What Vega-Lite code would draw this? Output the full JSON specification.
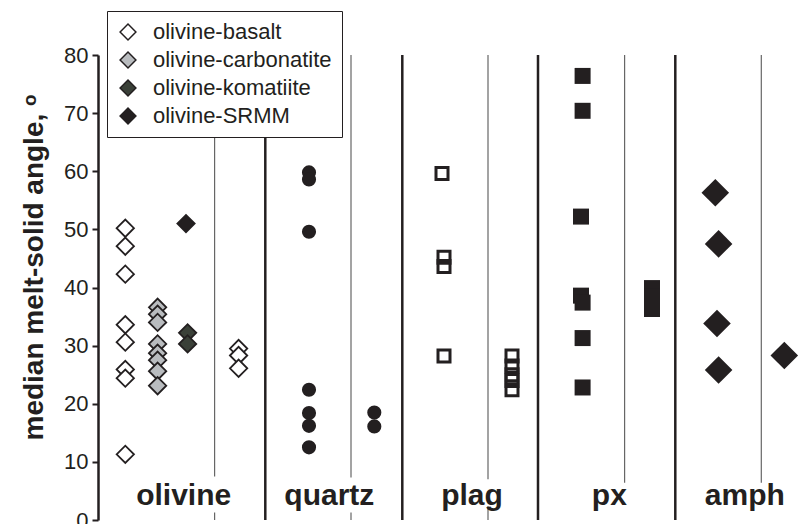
{
  "$schema": "https://vega.github.io/schema/vega-lite/v6.json",
  "width": 704,
  "height": 465,
  "autosize": {"type": "none"},
  "padding": {"left": 98, "top": 55, "right": 0, "bottom": 4},
  "background": "white",
  "config": {"view": {"stroke": null}, "font": "Liberation Sans"},
  "datasets": {
    "sep": [
      {"x": 16.73, "v": 0, "v2": 80},
      {"x": 30.43, "v": 0, "v2": 80},
      {"x": 44.0, "v": 0, "v2": 80},
      {"x": 57.73, "v": 0, "v2": 80}
    ],
    "thin": [
      {"x": 11.66, "v": 7.5, "v2": 80},
      {"x": 11.66, "v": 0, "v2": 1.3},
      {"x": 25.3, "v": 7.3, "v2": 80},
      {"x": 25.3, "v": 0, "v2": 1.3},
      {"x": 39.0, "v": 7.0, "v2": 80},
      {"x": 39.0, "v": 0, "v2": 2.4},
      {"x": 52.66, "v": 6.4, "v2": 80},
      {"x": 66.33, "v": 6.4, "v2": 80}
    ],
    "oliv": [
      {"x": 2.73, "v": 50.2, "s": "olivine-basalt"},
      {"x": 2.73, "v": 47.1, "s": "olivine-basalt"},
      {"x": 2.73, "v": 42.3, "s": "olivine-basalt"},
      {"x": 2.73, "v": 33.6, "s": "olivine-basalt"},
      {"x": 2.73, "v": 30.6, "s": "olivine-basalt"},
      {"x": 2.73, "v": 25.9, "s": "olivine-basalt"},
      {"x": 2.73, "v": 24.4, "s": "olivine-basalt"},
      {"x": 2.73, "v": 11.3, "s": "olivine-basalt"},
      {"x": 14.06, "v": 29.5, "s": "olivine-basalt"},
      {"x": 14.06, "v": 28.3, "s": "olivine-basalt"},
      {"x": 14.06, "v": 26.1, "s": "olivine-basalt"},
      {"x": 5.96, "v": 36.6, "s": "olivine-carbonatite"},
      {"x": 5.96, "v": 35.4, "s": "olivine-carbonatite"},
      {"x": 5.96, "v": 34.0, "s": "olivine-carbonatite"},
      {"x": 5.96, "v": 30.3, "s": "olivine-carbonatite"},
      {"x": 5.96, "v": 28.7, "s": "olivine-carbonatite"},
      {"x": 5.96, "v": 27.5, "s": "olivine-carbonatite"},
      {"x": 5.96, "v": 25.6, "s": "olivine-carbonatite"},
      {"x": 5.96, "v": 23.1, "s": "olivine-carbonatite"},
      {"x": 8.96, "v": 32.2, "s": "olivine-komatiite"},
      {"x": 8.96, "v": 30.3, "s": "olivine-komatiite"},
      {"x": 8.8, "v": 51.0, "s": "olivine-SRMM"}
    ],
    "quartz": [
      {"x": 21.1, "v": 59.8},
      {"x": 21.1, "v": 58.6},
      {"x": 21.1, "v": 49.6},
      {"x": 21.1, "v": 22.4},
      {"x": 21.1, "v": 18.4},
      {"x": 21.1, "v": 16.2},
      {"x": 21.1, "v": 12.5},
      {"x": 27.63, "v": 18.5},
      {"x": 27.63, "v": 16.1}
    ],
    "plag": [
      {"x": 34.4, "v": 59.6},
      {"x": 34.6, "v": 45.2},
      {"x": 34.6, "v": 43.6},
      {"x": 34.6, "v": 28.2},
      {"x": 41.4, "v": 28.2},
      {"x": 41.4, "v": 26.5},
      {"x": 41.4, "v": 25.0},
      {"x": 41.4, "v": 24.0},
      {"x": 41.4, "v": 22.4}
    ],
    "px": [
      {"x": 48.46, "v": 76.4},
      {"x": 48.46, "v": 70.4},
      {"x": 48.3, "v": 52.2},
      {"x": 48.3, "v": 38.6},
      {"x": 48.46, "v": 37.4},
      {"x": 48.46, "v": 31.3},
      {"x": 48.46, "v": 22.8},
      {"x": 55.4, "v": 39.9},
      {"x": 55.4, "v": 38.5},
      {"x": 55.4, "v": 36.3}
    ],
    "amph": [
      {"x": 61.73, "v": 56.3},
      {"x": 62.06, "v": 47.5},
      {"x": 61.9, "v": 33.8},
      {"x": 62.06, "v": 25.8},
      {"x": 68.63, "v": 28.3}
    ],
    "labels": [
      {"x": 8.57, "v": 2.66, "t": "olivine"},
      {"x": 23.13, "v": 2.66, "t": "quartz"},
      {"x": 37.4, "v": 2.66, "t": "plag"},
      {"x": 51.13, "v": 2.66, "t": "px"},
      {"x": 64.68, "v": 2.66, "t": "amph"}
    ]
  },
  "layer": [
    {
      "data": {"name": "thin"},
      "mark": {"type": "rule", "color": "#666666", "strokeWidth": 1.2},
      "encoding": {
        "x": {"field": "x", "type": "quantitative", "scale": {"domain": [0, 70.4], "nice": false, "zero": false}, "axis": null},
        "y": {
          "field": "v", "type": "quantitative",
          "scale": {"domain": [0, 80], "nice": false},
          "axis": {
            "title": "median melt-solid angle, ᵒ",
            "values": [0, 10, 20, 30, 40, 50, 60, 70, 80],
            "grid": false,
            "domainColor": "#231f20", "domainWidth": 2.5,
            "tickColor": "#231f20", "tickWidth": 2, "tickSize": 6,
            "labelFont": "Liberation Sans", "labelFontSize": 22, "labelColor": "#231f20", "labelPadding": 4,
            "titleFont": "Liberation Sans", "titleFontSize": 28, "titleFontWeight": "bold", "titleColor": "#231f20",
            "titleX": -56, "titleY": 212, "titleAngle": -90, "titleAlign": "center", "titleBaseline": "alphabetic"
          }
        },
        "y2": {"field": "v2"}
      }
    },
    {
      "data": {"name": "sep"},
      "mark": {"type": "rule", "color": "#231f20", "strokeWidth": 2.5},
      "encoding": {
        "x": {"field": "x", "type": "quantitative", "axis": null},
        "y": {"field": "v", "type": "quantitative"},
        "y2": {"field": "v2"}
      }
    },
    {
      "mark": {"type": "rule", "color": "#231f20", "strokeWidth": 2.5},
      "encoding": {"y": {"datum": 80, "type": "quantitative"}}
    },
    {
      "mark": {"type": "rule", "color": "#231f20", "strokeWidth": 2.5},
      "encoding": {"y": {"datum": 0, "type": "quantitative"}}
    },
    {
      "data": {"name": "labels"},
      "mark": {"type": "text", "font": "Liberation Sans", "fontSize": 30, "fontWeight": "bold", "color": "#231f20", "align": "center", "baseline": "alphabetic"},
      "encoding": {
        "x": {"field": "x", "type": "quantitative", "axis": null},
        "y": {"field": "v", "type": "quantitative"},
        "text": {"field": "t"}
      }
    },
    {
      "data": {"name": "quartz"},
      "mark": {"type": "point", "shape": "circle", "filled": true, "size": 200, "color": "#231f20", "opacity": 1},
      "encoding": {
        "x": {"field": "x", "type": "quantitative", "axis": null},
        "y": {"field": "v", "type": "quantitative"}
      }
    },
    {
      "data": {"name": "plag"},
      "mark": {"type": "point", "shape": "square", "filled": false, "size": 144, "stroke": "#231f20", "strokeWidth": 3, "opacity": 1},
      "encoding": {
        "x": {"field": "x", "type": "quantitative", "axis": null},
        "y": {"field": "v", "type": "quantitative"}
      }
    },
    {
      "data": {"name": "px"},
      "mark": {"type": "point", "shape": "square", "filled": true, "size": 256, "color": "#231f20", "opacity": 1},
      "encoding": {
        "x": {"field": "x", "type": "quantitative", "axis": null},
        "y": {"field": "v", "type": "quantitative"}
      }
    },
    {
      "data": {"name": "amph"},
      "mark": {"type": "point", "shape": "diamond", "filled": true, "size": 760, "color": "#231f20", "opacity": 1},
      "encoding": {
        "x": {"field": "x", "type": "quantitative", "axis": null},
        "y": {"field": "v", "type": "quantitative"}
      }
    },
    {
      "data": {"name": "oliv"},
      "mark": {"type": "point", "shape": "diamond", "filled": true, "size": 300, "stroke": "#231f20", "strokeWidth": 1.8, "opacity": 1},
      "encoding": {
        "x": {"field": "x", "type": "quantitative", "axis": null},
        "y": {"field": "v", "type": "quantitative"},
        "fill": {
          "field": "s", "type": "nominal",
          "scale": {"domain": ["olivine-basalt", "olivine-carbonatite", "olivine-komatiite", "olivine-SRMM"], "range": ["#ffffff", "#b9bcbf", "#3a4038", "#231f20"]},
          "legend": {
            "title": null, "orient": "none", "legendX": 9, "legendY": -44,
            "symbolType": "diamond", "symbolSize": 250, "symbolStrokeColor": "#231f20", "symbolStrokeWidth": 1.5, "symbolOpacity": 1,
            "labelFont": "Liberation Sans", "labelFontSize": 22, "labelColor": "#231f20", "labelOffset": 14, "labelLimit": 400,
            "rowPadding": 6, "padding": 10,
            "strokeColor": "#231f20", "fillColor": "white"
          }
        }
      }
    }
  ]
}
